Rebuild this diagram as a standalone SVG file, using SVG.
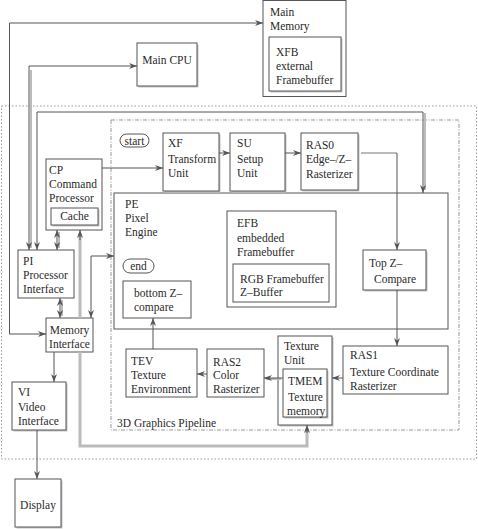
<svg xmlns="http://www.w3.org/2000/svg" width="478" height="529" viewBox="0 0 478 529" font-family="'Liberation Serif','Times New Roman','DejaVu Serif',serif">
<style>
text{font-family:"Liberation Serif","Times New Roman","DejaVu Serif",serif;font-size:11.5px;fill:#2a2a2a}
.bx{fill:#fff;stroke:#555;stroke-width:1}
.in{fill:none;stroke:#555;stroke-width:1}
.sh{fill:#c4c4c4;stroke:none}
.dk{fill:none;stroke:#555;stroke-width:1}
.gr{fill:none;stroke:#bbb;stroke-width:2}
.gt{fill:none;stroke:#bbb;stroke-width:3}
.a2{marker-start:url(#ah);marker-end:url(#ah)}
.a1{marker-end:url(#ah)}
.c{text-anchor:middle}
</style>
<defs>
<marker id="ah" viewBox="0 0 8 6" refX="8" refY="3" markerWidth="8" markerHeight="6" markerUnits="userSpaceOnUse" orient="auto-start-reverse"><path d="M0,0 L8,3 L0,6 L2.5,3 z" fill="#555"/></marker>
</defs>
<rect x="1.5" y="106" width="475" height="353" fill="none" stroke="#999" stroke-width="1" stroke-dasharray="1.5,2"/>
<g id="pipeline">
<rect x="111" y="120" width="348" height="310" fill="none" stroke="#999" stroke-width="1" stroke-dasharray="4,1.5,1,1.5"/>
<text x="117" y="427">3D Graphics Pipeline</text>
</g>
<g id="main-memory">
<rect class="bx" x="263" y="0.5" width="83" height="96"/>
<text x="270" y="16">Main</text><text x="270" y="30">Memory</text>
<rect class="sh" x="270.5" y="38.5" width="72" height="54"/>
<rect class="bx" x="269" y="37" width="72" height="54"/>
<text x="276" y="56">XFB</text><text x="276" y="70">external</text><text x="276" y="84">Framebuffer</text>
</g>
<g id="main-cpu">
<rect class="sh" x="138.5" y="44.5" width="60" height="43"/>
<rect class="bx" x="137" y="43" width="60" height="43"/>
<text class="c" x="167" y="64">Main CPU</text>
</g>
<g id="pe">
<rect class="bx" x="114" y="193" width="334" height="136"/>
<text x="125" y="208">PE</text><text x="125" y="222">Pixel</text><text x="125" y="236">Engine</text>
</g>
<g id="efb">
<rect class="bx" x="227" y="211" width="109" height="96"/>
<text x="237" y="227">EFB</text><text x="237" y="242">embedded</text><text x="237" y="256">Framebuffer</text>
<rect class="in" x="233" y="264" width="96" height="38"/>
<text x="240" y="283">RGB Framebuffer</text><text x="240" y="296">Z–Buffer</text>
</g>
<g id="end">
<rect class="bx" x="123" y="259" width="31" height="14" rx="7"/>
<text class="c" x="138.5" y="270">end</text>
</g>
<g id="bottom-z">
<rect class="bx" x="123" y="281" width="68" height="37"/>
<text x="134" y="297">bottom Z–</text><text x="134" y="311">compare</text>
</g>
<g id="top-z">
<rect class="sh" x="364.5" y="251.5" width="63" height="40"/>
<rect class="bx" x="363" y="250" width="63" height="40"/>
<text x="369" y="267">Top Z–</text><text x="374" y="283">Compare</text>
</g>
<g id="start">
<rect class="bx" x="120" y="134" width="29" height="13" rx="6.5"/>
<text class="c" x="134.5" y="144.5">start</text>
</g>
<g id="xf">
<rect class="sh" x="164.5" y="134.5" width="56" height="58"/>
<rect class="bx" x="163" y="133" width="56" height="58"/>
<text x="168" y="147">XF</text><text x="168" y="163">Transform</text><text x="168" y="177">Unit</text>
</g>
<g id="su">
<rect class="sh" x="231.5" y="134.5" width="55" height="58"/>
<rect class="bx" x="230" y="133" width="55" height="58"/>
<text x="237" y="147">SU</text><text x="237" y="163">Setup</text><text x="237" y="177">Unit</text>
</g>
<g id="ras0">
<rect class="sh" x="302.5" y="134.5" width="57" height="57"/>
<rect class="bx" x="301" y="133" width="57" height="57"/>
<text x="306" y="149">RAS0</text><text x="306" y="163">Edge–/Z–</text><text x="306" y="178">Rasterizer</text>
</g>
<g id="cp">
<rect class="bx" x="46" y="159" width="56" height="71"/>
<text x="49" y="174">CP</text><text x="49" y="188">Command</text><text x="49" y="202">Processor</text>
<rect class="sh" x="52.5" y="209.5" width="47" height="17"/>
<rect class="bx" x="51" y="208" width="47" height="17"/>
<text class="c" x="74.5" y="220">Cache</text>
</g>
<g id="pi">
<rect class="bx" x="18" y="250" width="56" height="48"/>
<text x="23" y="265">PI</text><text x="23" y="279">Processor</text><text x="23" y="293">Interface</text>
</g>
<g id="memory-interface">
<rect class="bx" x="46" y="318" width="47" height="34"/>
<text class="c" x="69.5" y="334">Memory</text><text class="c" x="69.5" y="348">Interface</text>
</g>
<g id="vi">
<rect class="sh" x="13.5" y="383.5" width="54" height="48"/>
<rect class="bx" x="12" y="382" width="54" height="48"/>
<text x="18" y="396">VI</text><text x="18" y="411">Video</text><text x="18" y="425">Interface</text>
</g>
<g id="display">
<rect class="sh" x="16.5" y="480.5" width="46" height="48"/>
<rect class="bx" x="15" y="479" width="46" height="48"/>
<text class="c" x="38" y="509">Display</text>
</g>
<g id="tev">
<rect class="bx" x="126" y="349" width="71" height="48"/>
<text x="131" y="365">TEV</text><text x="131" y="379">Texture</text><text x="131" y="393">Environment</text>
</g>
<g id="ras2">
<rect class="bx" x="207" y="349" width="57" height="48"/>
<text x="213" y="366">RAS2</text><text x="213" y="379">Color</text><text x="213" y="393">Rasterizer</text>
</g>
<g id="texture-unit">
<rect class="sh" x="279.5" y="337.5" width="54" height="89"/>
<rect class="bx" x="278" y="336" width="54" height="89"/>
<text x="284" y="350">Texture</text><text x="284" y="364">Unit</text>
<rect class="sh" x="284.5" y="370.5" width="44" height="48"/>
<rect class="bx" x="283" y="369" width="44" height="48"/>
<text x="288" y="385">TMEM</text><text x="288" y="401">Texture</text><text x="287" y="415">memory</text>
</g>
<g id="ras1">
<rect class="bx" x="343" y="346" width="105" height="48"/>
<text x="350" y="359">RAS1</text><text x="350" y="376">Texture Coordinate</text><text x="350" y="390">Rasterizer</text>
</g>
<g id="connectors">
<polyline class="gr" points="31,70 31,248"/>
<polyline class="gr" points="425,113 425,190"/>
<polyline class="gr" points="361,153 397,153"/>
<polyline class="gr" points="59,232 59,248"/>
<polyline class="gr" points="62,300 62,316"/>
<polyline class="gr" points="281,379 266,379"/>
<polyline class="gt" points="80,233 80,318"/>
<polyline class="gt" points="80,352 80,446 307,446 307,428"/>
<polyline class="dk a2" points="46,334 9.5,334 9.5,23 263,23"/>
<polyline class="dk a2" points="29,250 29,66 137,66"/>
<polyline class="dk a2" points="37,250 37,112 423,112 423,193"/>
<polyline class="dk a1" points="102,168 163,168"/>
<polyline class="dk a1" points="219,153 230,153"/>
<polyline class="dk a1" points="285,153 301,153"/>
<polyline class="dk a1" points="397,153 397,250"/>
<polyline class="dk a1" points="397,290 397,346"/>
<polyline class="dk a1" points="343,378 332,378"/>
<polyline class="dk a1" points="283,378 264,378"/>
<polyline class="dk a1" points="207,374 197,374"/>
<polyline class="dk a1" points="153,349 153,318"/>
<polyline class="dk a2" points="57,230 57,250"/>
<polyline class="dk a2" points="60,298 60,318"/>
<polyline class="dk a1" points="80,240 80,230"/>
<polyline class="dk a2" points="91,318 91,256 114,256"/>
<polyline class="dk a1" points="54,352 54,382"/>
<polyline class="dk a1" points="37,430 37,479"/>
<polyline class="dk a1" points="307,433 307,425"/>
</g>
</svg>
